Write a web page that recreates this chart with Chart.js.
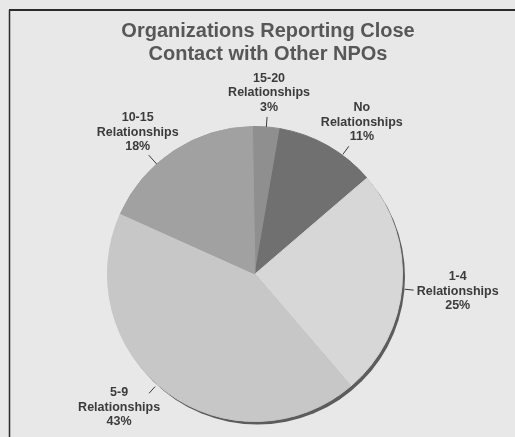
<!DOCTYPE html>
<html>
<head>
<meta charset="utf-8">
<script src="https://cdn.jsdelivr.net/npm/chart.js@4.4.1/dist/chart.umd.min.js"></script>
<style>
  html, body { margin: 0; padding: 0; background: #e8e8e8; }
  #wrap { width: 515px; height: 437px; position: relative; }
</style>
</head>
<body>
<div id="wrap"><canvas id="chart" width="515" height="437"></canvas></div>
<script>
// Survey result: how many nonprofits each organization keeps close contact with
const groupNames = ['15-20', 'No', '1-4', '5-9', '10-15'];
const groupSuffix = 'Relationships';
const shares = [3, 11, 25, 43, 18];
const titleLines = ['Organizations Reporting Close', 'Contact with Other NPOs'];

// Slice fills (grey scale)
const sliceColors = ['#8f8f8f', '#707070', '#d7d7d7', '#c7c7c7', '#a1a1a1'];

// Callout layout: leader angle tweak (deg), leader start/end radius offset, label offset from leader end
const calloutLayout = [
  { nudge: 0.0, from: 0, to: 10, dx: 2, dy: -24 },
  { nudge: 6.7, from: 1, to: 11, dx: 13, dy: -24 },
  { nudge: 1.4, from: 3, to: 12, dx: 44, dy: 1 },
  { nudge: 4.8, from: 3, to: 12, dx: -30, dy: 14 },
  { nudge: -8.4, from: 0, to: 12, dx: -11, dy: -23 }
];

const LABEL_FONT = 'bold 12.5px "Liberation Sans", Arial, sans-serif';

const pageBackground = {
  id: 'pageBackground',
  beforeDraw(chart) {
    const { ctx, width, height } = chart;
    ctx.save();
    ctx.fillStyle = '#e8e8e8';
    ctx.fillRect(0, 0, width, height);
    // frame lines along top and left
    ctx.strokeStyle = '#2b2b2b';
    ctx.lineWidth = 2;
    ctx.beginPath();
    ctx.moveTo(9, 10);
    ctx.lineTo(width, 10);
    ctx.stroke();
    ctx.lineWidth = 1.5;
    ctx.beginPath();
    ctx.moveTo(9.5, 10);
    ctx.lineTo(9.5, height);
    ctx.stroke();
    ctx.restore();
  }
};

// Shift the title block so it sits a little right of the pie centre
const titleShift = {
  id: 'titleShift',
  afterLayout(chart) {
    const tb = chart.titleBlock;
    if (tb) { tb.left += 13; tb.right += 13; }
  }
};

// Dark rim under the pie, offset down-right
const pieRim = {
  id: 'pieRim',
  beforeDatasetsDraw(chart) {
    const meta = chart.getDatasetMeta(0);
    if (!meta.data.length) return;
    const { x, y, outerRadius } = meta.data[0].getProps(['x', 'y', 'outerRadius'], true);
    const ctx = chart.ctx;
    ctx.save();
    ctx.fillStyle = '#5c5c5c';
    ctx.beginPath();
    ctx.arc(x + 2.5, y + 3, outerRadius, 0, Math.PI * 2);
    ctx.fill();
    ctx.restore();
  }
};

// Outside labels with short leader lines
const callouts = {
  id: 'callouts',
  afterDatasetsDraw(chart) {
    const ctx = chart.ctx;
    const meta = chart.getDatasetMeta(0);
    const values = chart.data.datasets[0].data;
    ctx.save();
    ctx.font = LABEL_FONT;
    ctx.fillStyle = '#3b3b3b';
    ctx.textAlign = 'center';
    ctx.textBaseline = 'middle';
    meta.data.forEach((arc, i) => {
      const p = arc.getProps(['x', 'y', 'startAngle', 'endAngle', 'outerRadius'], true);
      const lay = calloutLayout[i];
      const a = (p.startAngle + p.endAngle) / 2 + lay.nudge * Math.PI / 180;
      const r0 = p.outerRadius + lay.from;
      const r1 = p.outerRadius + lay.to;
      const x0 = p.x + Math.cos(a) * r0, y0 = p.y + Math.sin(a) * r0;
      const x1 = p.x + Math.cos(a) * r1, y1 = p.y + Math.sin(a) * r1;
      ctx.strokeStyle = '#3a3a3a';
      ctx.lineWidth = 1;
      ctx.beginPath();
      ctx.moveTo(x0, y0);
      ctx.lineTo(x1, y1);
      ctx.stroke();
      const cx = x1 + lay.dx, cy = y1 + lay.dy;
      const lines = [groupNames[i], groupSuffix, values[i] + '%'];
      const lh = 14.5;
      lines.forEach((t, k) => ctx.fillText(t, cx, cy + (k - 1) * lh));
    });
    ctx.restore();
  }
};

new Chart(document.getElementById('chart'), {
  type: 'pie',
  data: {
    labels: groupNames.map(n => n + ' ' + groupSuffix),
    datasets: [{
      data: shares,
      backgroundColor: sliceColors,
      borderColor: sliceColors,
      borderWidth: 1
    }]
  },
  options: {
    responsive: false,
    animation: false,
    rotation: -1,
    layout: { padding: { top: 0, bottom: 15, left: 60, right: 65 } },
    plugins: {
      legend: { display: false },
      tooltip: { enabled: false },
      title: {
        display: true,
        text: titleLines,
        color: '#575757',
        font: { family: '"Liberation Sans", Arial, sans-serif', size: 20, weight: 'bold', lineHeight: 1.15 },
        padding: { top: 20, bottom: 60 }
      }
    }
  },
  plugins: [pageBackground, titleShift, pieRim, callouts]
});
</script>
</body>
</html>
